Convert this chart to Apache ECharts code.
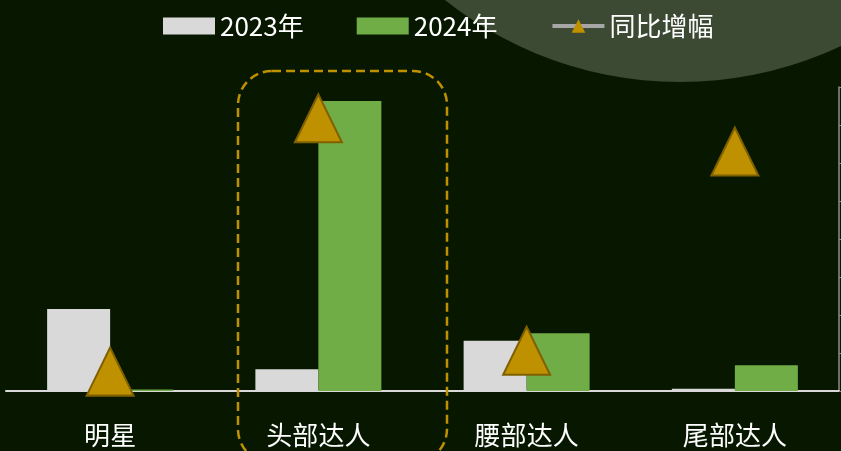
<!DOCTYPE html>
<html>
<head>
<meta charset="utf-8">
<title>达人同比</title>
<script src="https://cdn.jsdelivr.net/npm/echarts@6/dist/echarts.min.js"></script>
<style>
    html, body { margin: 0; padding: 0; background: #081800; }
    #bar-chart { width: 841px; height: 451px; }
</style>
</head>
<body>
<div id="bar-chart"></div>
<script>
    var categories = ['明星', '头部达人', '腰部达人', '尾部达人'];
    var seriesNames = ['2023年', '2024年', '同比增幅'];
    var values2023 = [216, 57, 132, 6];
    var values2024 = [4, 763, 152, 68];
    var growthRate = [-98, 1235, 12, 1060];   // %

    var fontCN = 'Noto Sans CJK SC';

    // 初始化图表
    var myChart = echarts.init(document.getElementById('bar-chart'));

    var option = {
        backgroundColor: '#081800',
        textStyle: { fontFamily: fontCN },
        // 右上角装饰圆 + 虚线框
        graphic: [
            {
                type: 'circle',
                z: -10,
                shape: { cx: 680, cy: -296, r: 378 },
                style: { fill: '#3c4a34' }
            },
            {
                type: 'rect',
                z: 10,
                shape: { x: 238, y: 71, width: 209, height: 392, r: 34 },
                style: { fill: 'none', stroke: '#bf9000', lineWidth: 2.5, lineDash: [9, 5] }
            }
        ],
        legend: {
            left: 158,
            top: 8,
            itemWidth: 52,
            itemHeight: 17,
            itemGap: 53,
            textStyle: { color: '#ffffff', fontSize: 26, fontFamily: fontCN },
            data: [
                { name: seriesNames[0], icon: 'rect' },
                { name: seriesNames[1], icon: 'rect' },
                {
                    name: seriesNames[2],
                    lineStyle: { color: '#a6a6a6', width: 4, opacity: 1 },
                    itemStyle: { color: '#bf9000', borderWidth: 0 }
                }
            ]
        },
        grid: {
            left: 6,
            right: 2,
            top: 87,
            bottom: 60,
            containLabel: false
        },
        xAxis: [
            {
                type: 'category',
                data: categories,
                axisLine: { lineStyle: { color: '#d9d9d9', width: 2 } },
                axisTick: { show: false },
                axisLabel: { color: '#ffffff', fontSize: 26, margin: 31, fontFamily: fontCN }
            }
        ],
        yAxis: [
            {
                type: 'value',
                min: 0,
                max: 800,
                show: false,
                splitLine: { show: false }
            },
            {
                type: 'value',
                position: 'right',
                min: -200,
                max: 1400,
                interval: 200,
                axisLine: { show: true, lineStyle: { color: '#8c8c8c', width: 1.5 } },
                axisTick: { show: true, length: 5, lineStyle: { color: '#8c8c8c' } },
                axisLabel: { show: false },
                splitLine: { show: false }
            }
        ],
        series: [
            {
                name: seriesNames[0],
                type: 'bar',
                barGap: 0,
                barCategoryGap: '39.5%',
                itemStyle: { color: '#d9d9d9' },
                data: values2023
            },
            {
                name: seriesNames[1],
                type: 'bar',
                barGap: 0,
                barCategoryGap: '39.5%',
                itemStyle: { color: '#70ad47' },
                data: values2024
            },
            {
                name: seriesNames[2],
                type: 'line',
                yAxisIndex: 1,
                symbol: 'triangle',
                symbolSize: [47, 48],
                lineStyle: { width: 0, opacity: 0 },
                itemStyle: { color: '#bf9000', borderColor: '#7f6000', borderWidth: 2 },
                z: 5,
                data: growthRate
            }
        ]
    };

    myChart.setOption(option);
</script>
</body>
</html>
